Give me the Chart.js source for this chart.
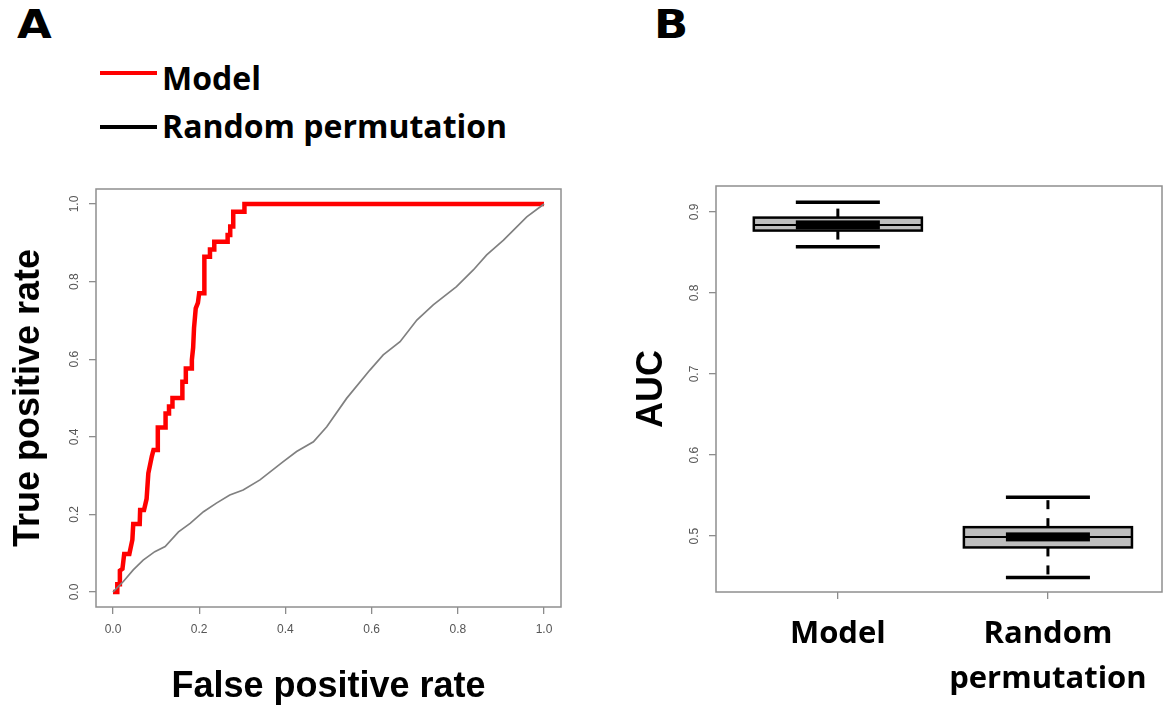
<!DOCTYPE html>
<html lang="en">
<head>
<meta charset="UTF-8">
<title>ROC curve and AUC</title>
<script src="https://cdn.jsdelivr.net/npm/chart.js"></script>
<style>
  body { margin: 0; width: 1164px; height: 709px; background: #fff; position: relative; overflow: hidden; font-family: 'Open Sans', sans-serif; }
  .panel-label { position: absolute; font-family: 'DejaVu Sans', sans-serif; font-weight: bold; font-size: 39px; line-height: 1; color: #000; transform: scaleX(1.15); transform-origin: left top; }
  .legend-line { position: absolute; left: 100px; width: 57px; height: 4px; }
  .legend-text { position: absolute; left: 162px; font-weight: 700; font-size: 32px; line-height: 1; color: #000; white-space: nowrap; }
  .chart-box { position: absolute; }
</style>
</head>
<body>
<div class="panel-label" style="left:17px;top:5px">A</div>
<div class="panel-label" style="left:654px;top:5px">B</div>

<div class="legend-line" style="top:71px;background:#ff0000"></div>
<div class="legend-text" style="top:62px">Model</div>
<div class="legend-line" style="top:125px;background:#000"></div>
<div class="legend-text" style="top:110px">Random permutation</div>

<div class="chart-box" style="left:0;top:160px;width:580px;height:549px"><canvas id="rocChart"></canvas></div>
<div class="chart-box" style="left:600px;top:160px;width:564px;height:549px"><canvas id="aucChart"></canvas></div>

<script>
// Panel A: ROC curves
const modelFpr = [0, 0.01, 0.01, 0.016, 0.016, 0.022, 0.026, 0.038, 0.045, 0.047, 0.062, 0.063, 0.072, 0.078,
  0.082, 0.09, 0.094, 0.104, 0.104, 0.121, 0.122, 0.13, 0.13, 0.138, 0.138, 0.161, 0.161, 0.169, 0.169,
  0.182, 0.183, 0.186, 0.188, 0.192, 0.197, 0.2, 0.212, 0.212, 0.225, 0.225, 0.235, 0.235, 0.266, 0.266,
  0.272, 0.272, 0.279, 0.279, 0.305, 0.305, 1.0];
const modelTpr = [0, 0, 0.02, 0.02, 0.055, 0.06, 0.098, 0.098, 0.135, 0.175, 0.175, 0.211, 0.211, 0.24,
  0.306, 0.349, 0.366, 0.366, 0.424, 0.424, 0.46, 0.46, 0.478, 0.478, 0.5, 0.5, 0.542, 0.542, 0.576,
  0.576, 0.598, 0.63, 0.68, 0.731, 0.745, 0.77, 0.77, 0.864, 0.864, 0.883, 0.883, 0.903, 0.903, 0.92,
  0.92, 0.942, 0.942, 0.98, 0.98, 1.0, 1.0];
const randomFpr = [0, 0.024, 0.047, 0.07, 0.097, 0.121, 0.152, 0.179, 0.21, 0.24, 0.271, 0.302, 0.341,
  0.395, 0.426, 0.465, 0.496, 0.542, 0.596, 0.627, 0.666, 0.705, 0.743, 0.797, 0.836, 0.867, 0.906, 0.96, 1.0];
const randomTpr = [0, 0.027, 0.057, 0.082, 0.104, 0.117, 0.155, 0.177, 0.207, 0.229, 0.25, 0.263, 0.289,
  0.336, 0.362, 0.387, 0.426, 0.499, 0.572, 0.611, 0.645, 0.701, 0.74, 0.787, 0.83, 0.869, 0.907, 0.967, 1.0];
const rateTicks = [0, 0.2, 0.4, 0.6, 0.8, 1.0];

// Panel B: AUC box plots
const groupLabels = [['Model'], ['Random', 'permutation']];
const aucLowWhisker = [0.857, 0.449];
const aucQ1 = [0.877, 0.486];
const aucMedian = [0.884, 0.499];
const aucQ3 = [0.893, 0.511];
const aucHighWhisker = [0.912, 0.548];
const aucTicks = [0.5, 0.6, 0.7, 0.8, 0.9];

const toPoints = (xs, ys) => xs.map((v, i) => ({ x: v, y: ys[i] }));

const tickFont = { family: 'Liberation Sans', size: 12 };
const titleFont = { family: 'Liberation Sans', size: 36, weight: 'bold' };
const tickGrid = { display: true, drawOnChartArea: false, drawTicks: true, tickLength: 7, color: '#8c8c8c', lineWidth: 1.3 };

// grey box round the plot region, like R's box()
const framePlugin = {
  id: 'frame',
  beforeDatasetsDraw(chart) {
    const { ctx, chartArea: a } = chart;
    ctx.save();
    ctx.strokeStyle = '#8f8f8f';
    ctx.lineWidth = 1.5;
    ctx.strokeRect(a.left, a.top, a.right - a.left, a.bottom - a.top);
    ctx.restore();
  }
};

new Chart(document.getElementById('rocChart'), {
  type: 'scatter',
  data: {
    datasets: [
      { label: 'Random permutation', data: toPoints(randomFpr, randomTpr), showLine: true,
        borderColor: '#808080', borderWidth: 1.7, pointRadius: 0 },
      { label: 'Model', data: toPoints(modelFpr, modelTpr), showLine: true,
        borderColor: '#ff0000', borderWidth: 4.5, pointRadius: 0 }
    ]
  },
  options: {
    responsive: true,
    maintainAspectRatio: false,
    animation: false,
    layout: { padding: { top: 29, right: 19, left: 0, bottom: 0 } },
    plugins: { legend: { display: false }, tooltip: { enabled: false } },
    scales: {
      x: {
        type: 'linear', min: -0.0394, max: 1.0394,
        afterBuildTicks: s => { s.ticks = rateTicks.map(v => ({ value: v })); },
        afterFit: s => { s.height = 102; },
        ticks: { callback: v => v.toFixed(1), font: tickFont, color: '#555', padding: 8, maxRotation: 0 },
        grid: tickGrid,
        border: { display: false },
        title: { display: true, text: 'False positive rate', font: titleFont, color: '#000', padding: { top: 0, bottom: 0 } }
      },
      y: {
        type: 'linear', min: -0.0387, max: 1.0387,
        afterBuildTicks: s => { s.ticks = rateTicks.map(v => ({ value: v })); },
        afterFit: s => { s.width = 96; },
        ticks: { callback: v => v.toFixed(1), font: tickFont, color: '#555', padding: 6,
          minRotation: 90, maxRotation: 90, crossAlign: 'center' },
        grid: tickGrid,
        border: { display: false },
        title: { display: true, text: 'True positive rate', font: titleFont, color: '#000', padding: { top: 7, bottom: 0 } }
      }
    }
  },
  plugins: [framePlugin]
});

// draws each box, whiskers and median from the AUC arrays through the chart scales
const boxPlugin = {
  id: 'boxes',
  afterDatasetsDraw(chart) {
    const { ctx, scales: { x, y } } = chart;
    const seg = (x1, y1, x2, y2) => { ctx.beginPath(); ctx.moveTo(x1, y1); ctx.lineTo(x2, y2); ctx.stroke(); };
    ctx.save();
    ctx.strokeStyle = '#000';
    groupLabels.forEach((g, i) => {
      const cx = x.getPixelForValue(i + 1);
      const boxHalf = x.getPixelForValue(i + 1.4) - cx;
      const capHalf = boxHalf / 2;
      const yLo = y.getPixelForValue(aucLowWhisker[i]);
      const yQ1 = y.getPixelForValue(aucQ1[i]);
      const yMed = y.getPixelForValue(aucMedian[i]);
      const yQ3 = y.getPixelForValue(aucQ3[i]);
      const yHi = y.getPixelForValue(aucHighWhisker[i]);

      ctx.lineWidth = 3;
      ctx.setLineDash([9, 9]);
      seg(cx, yQ1, cx, yLo);
      seg(cx, yQ3, cx, yHi);
      ctx.setLineDash([]);

      ctx.lineWidth = 3.5;
      seg(cx - capHalf, yLo, cx + capHalf, yLo);
      seg(cx - capHalf, yHi, cx + capHalf, yHi);

      ctx.fillStyle = '#bebebe';
      ctx.fillRect(cx - boxHalf, yQ3, boxHalf * 2, yQ1 - yQ3);
      ctx.lineWidth = 2.5;
      ctx.strokeRect(cx - boxHalf, yQ3, boxHalf * 2, yQ1 - yQ3);

      ctx.lineWidth = 2;
      seg(cx - boxHalf, yMed, cx + boxHalf, yMed);
      ctx.fillStyle = '#000';
      ctx.fillRect(cx - capHalf, yMed - 4.5, capHalf * 2, 9);
    });
    ctx.restore();
  }
};

new Chart(document.getElementById('aucChart'), {
  type: 'scatter',
  data: {
    datasets: [
      { label: 'AUC median', data: aucMedian.map((v, i) => ({ x: i + 1, y: v })), pointRadius: 0 }
    ]
  },
  options: {
    responsive: true,
    maintainAspectRatio: false,
    animation: false,
    layout: { padding: { top: 26, right: 2, left: 0, bottom: 0 } },
    plugins: { legend: { display: false }, tooltip: { enabled: false } },
    scales: {
      x: {
        type: 'linear', min: 0.42, max: 2.543,
        afterBuildTicks: s => { s.ticks = groupLabels.map((g, i) => ({ value: i + 1 })); },
        afterFit: s => { s.height = 117; },
        ticks: { callback: v => groupLabels[v - 1], font: { family: 'Open Sans', size: 31, weight: '700', lineHeight: 1.45 },
          color: '#000', padding: 13, maxRotation: 0 },
        grid: tickGrid,
        border: { display: false }
      },
      y: {
        type: 'linear', min: 0.431, max: 0.932,
        afterBuildTicks: s => { s.ticks = aucTicks.map(v => ({ value: v })); },
        afterFit: s => { s.width = 116; },
        ticks: { callback: v => v.toFixed(1), font: tickFont, color: '#555', padding: 6,
          minRotation: 90, maxRotation: 90, crossAlign: 'center' },
        grid: tickGrid,
        border: { display: false },
        title: { display: true, text: 'AUC', font: titleFont, color: '#000', padding: { top: 30, bottom: 0 } }
      }
    }
  },
  plugins: [framePlugin, boxPlugin]
});
</script>
</body>
</html>
